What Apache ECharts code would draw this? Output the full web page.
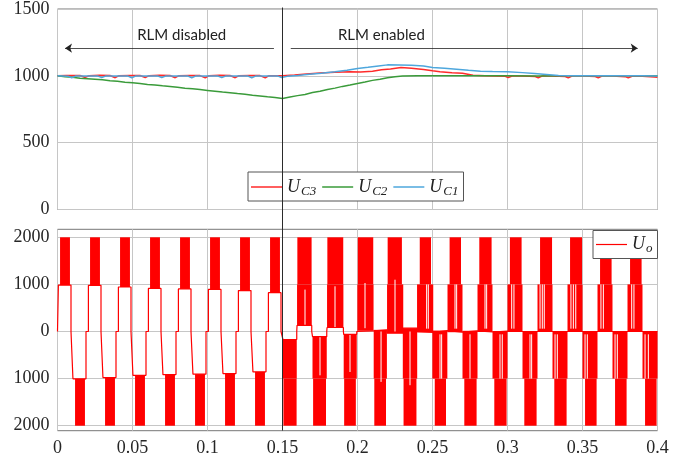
<!DOCTYPE html>
<html>
<head>
<meta charset="utf-8">
<script src="https://cdn.jsdelivr.net/npm/echarts@6/dist/echarts.min.js"></script>
<style>
html, body { margin: 0; padding: 0; background: #fff; }
#main { width: 698px; height: 466px; }
</style>
</head>
<body>
<div id="main"></div>
<script>
// ---- data ----
var switchTime = 0.15;
var uoTickValues = [-2000, -1000, 0, 1000, 2000];

// capacitor voltages [t, V]
var uc3 = [[0,1000],[0.006,1003],[0.015,1002],[0.0185,988],[0.021,1001],[0.028,1004],[0.035,1002],[0.0385,986],[0.041,1001],
  [0.048,1003],[0.055,1002],[0.0585,987],[0.061,1001],[0.068,1004],[0.075,1002],[0.0785,986],[0.081,1001],[0.088,1003],
  [0.095,1002],[0.0985,985],[0.101,1001],[0.108,1004],[0.115,1002],[0.1185,986],[0.121,1001],[0.128,1003],[0.135,1002],
  [0.1385,985],[0.141,1001],[0.150,1001],[0.158,1006],[0.166,1014],[0.175,1022],[0.185,1026],[0.195,1030],[0.202,1028],
  [0.21,1035],[0.216,1045],[0.222,1052],[0.229,1062],[0.236,1056],[0.244,1048],[0.25,1038],[0.255,1030],[0.263,1023],
  [0.27,1020],[0.277,1005],[0.285,1001],[0.292,999],[0.2985,996],[0.3005,987],[0.303,998],[0.31,999],[0.3185,995],
  [0.3205,986],[0.323,998],[0.33,999],[0.3385,995],[0.3405,985],[0.343,998],[0.35,999],[0.3585,995],[0.3605,986],
  [0.363,998],[0.37,998],[0.3785,994],[0.3805,985],[0.383,997],[0.39,996],[0.398,992],[0.4,990]];
var uc2 = [[0,1000],[0.005,993],[0.01,989],[0.015,982],[0.02,978],[0.025,974],[0.03,970],[0.035,963],[0.04,959],[0.045,952],
  [0.05,948],[0.055,943],[0.06,936],[0.065,932],[0.07,925],[0.075,920],[0.08,914],[0.085,908],[0.09,903],[0.095,897],
  [0.1,891],[0.105,885],[0.11,879],[0.115,874],[0.12,867],[0.125,862],[0.13,855],[0.135,850],[0.14,843],[0.145,838],
  [0.15,830],[0.155,841],[0.16,852],[0.165,861],[0.17,875],[0.175,885],[0.18,898],[0.185,908],[0.19,921],[0.195,931],
  [0.2,943],[0.205,954],[0.21,966],[0.215,975],[0.22,986],[0.225,994],[0.23,999],[0.24,1000],[0.26,1001],[0.28,1000],
  [0.3,1001],[0.32,999],[0.34,1001],[0.36,1000],[0.38,1001],[0.4,1000]];
var uc1 = [[0,1000],[0.007,997],[0.0095,986],[0.012,998],[0.027,998],[0.0295,987],[0.032,998],[0.047,998],[0.0495,986],
  [0.052,998],[0.067,998],[0.0695,987],[0.072,998],[0.087,998],[0.0895,986],[0.092,998],[0.107,998],[0.1095,987],
  [0.112,998],[0.127,998],[0.1295,986],[0.132,998],[0.147,998],[0.1495,988],[0.153,996],[0.16,1003],[0.168,1012],
  [0.176,1020],[0.185,1030],[0.193,1042],[0.2,1055],[0.207,1064],[0.214,1074],[0.22,1082],[0.228,1081],[0.236,1079],
  [0.244,1074],[0.25,1062],[0.258,1056],[0.266,1050],[0.274,1042],[0.282,1035],[0.29,1032],[0.3,1030],[0.31,1024],
  [0.318,1017],[0.326,1010],[0.334,1003],[0.345,1000],[0.36,1000],[0.375,1001],[0.39,1000],[0.4,999]];

// output voltage, staircase part before the switch: [t on, t off, level]
var uoSteps = [[0.0006,0.0090,986],[0.0103,0.0190,-1005],[0.0206,0.0290,980],[0.0303,0.0390,-978],
  [0.0406,0.0490,945],[0.0503,0.0590,-930],[0.0606,0.0690,915],[0.0703,0.0790,-915],[0.0806,0.0890,905],
  [0.0903,0.0990,-905],[0.1006,0.1090,893],[0.1103,0.1190,-893],[0.1206,0.1290,870],[0.1303,0.1390,-857],
  [0.1406,0.1490,825]];
// solid PWM bands of U_o: [t start, t end, from V, to V]
var uoOuterBands = [[0.0017,0.0083,986,2000],[0.0117,0.0183,-1005,-2000],[0.0217,0.0283,980,2000],
  [0.0317,0.0383,-978,-2000],[0.0417,0.0483,945,2000],[0.0517,0.0583,-930,-2000],[0.0617,0.0683,915,2000],
  [0.0717,0.0783,-915,-2000],[0.0817,0.0883,905,2000],[0.0917,0.0983,-905,-2000],[0.1017,0.1083,893,2000],
  [0.1117,0.1183,-893,-2000],[0.1217,0.1283,870,2000],[0.1317,0.1383,-857,-2000],[0.1417,0.1483,825,2000],
  [0.1506,0.1594,-1000,-2000],[0.1599,0.1694,1000,2000],[0.1704,0.1790,-1000,-2000],[0.1799,0.1905,1000,2000],
  [0.1911,0.1989,-1000,-2000],[0.2002,0.2105,1000,2000],[0.2112,0.2190,-1000,-2000],[0.2201,0.2296,1000,2000],
  [0.2307,0.2393,-1000,-2000],[0.2415,0.2490,1000,2000],[0.2515,0.2590,-1000,-2000],[0.2614,0.2690,1000,2000],
  [0.2712,0.2794,-1000,-2000],[0.2812,0.2894,1000,2000],[0.2912,0.2994,-1000,-2000],[0.3016,0.3094,1000,2000],
  [0.3112,0.3194,-1000,-2000],[0.3217,0.3297,1000,2000],[0.3312,0.3394,-1000,-2000],[0.3417,0.3497,1000,2000],
  [0.3517,0.3594,-1000,-2000],[0.3617,0.3694,1000,2000],[0.3717,0.3794,-1000,-2000],[0.3817,0.3894,1000,2000],
  [0.3917,0.3994,-1000,-2000]];
var uoInnerBands = [[0.1503,0.1595,-170,-1000],[0.1597,0.1695,130,1000],[0.1700,0.1795,-110,-1000],
  [0.1797,0.1906,85,1000],[0.1908,0.1995,-60,-1000],[0.1999,0.2107,15,1000],[0.2108,0.2196,35,-1000],
  [0.2197,0.2305,-35,1000],[0.2302,0.2398,70,-1000],[0.2397,0.2505,-20,1000],[0.2499,0.2599,20,-1000],
  [0.2600,0.2700,-15,1000],[0.2700,0.2800,15,-1000],[0.2800,0.2900,-10,1000],[0.2900,0.3000,10,-1000],
  [0.3000,0.3100,0,1000],[0.3100,0.3200,0,-1000],[0.3200,0.3300,0,1000],[0.3300,0.3400,0,-1000],
  [0.3400,0.3500,0,1000],[0.3500,0.3600,0,-1000],[0.3600,0.3700,0,1000],[0.3700,0.3800,0,-1000],
  [0.3800,0.3900,0,1000],[0.3900,0.4000,0,-1000]];
// thin white gaps inside the bands: [t, from V, to V]
var uoGaps = [[0.1650,140,890],[0.1750,-110,-930],[0.1850,70,960],[0.1950,-60,-860],[0.2050,70,1030],
  [0.2157,0,-1070],[0.2250,0,1100],[0.2350,0,-1140],[0.2461,60,1000],[0.2472,60,1000],[0.2550,-60,-1000],
  [0.2561,-60,-1000],[0.2650,60,1000],[0.2661,60,1000],[0.2750,-60,-1000],[0.2850,60,1000],[0.2861,60,1000],
  [0.2950,-60,-1000],[0.2965,-60,-1000],[0.3028,60,1000],[0.3043,60,1000],[0.3150,-60,-1000],[0.3161,-60,-1000],
  [0.3217,60,1000],[0.3232,60,1000],[0.3245,60,1000],[0.3317,-60,-1000],[0.3332,-60,-1000],[0.3423,60,1000],
  [0.3439,60,1000],[0.3455,60,1000],[0.3517,-60,-1000],[0.3532,-60,-1000],[0.3623,60,1000],[0.3639,60,1000],
  [0.3717,-60,-1000],[0.3732,-60,-1000],[0.3828,60,1000],[0.3843,60,1000],[0.3917,-60,-1000],[0.3939,-60,-1000]];

// ---- build the outline path of U_o ----
var uoOutline = [[0, 0]];
uoSteps.concat(uoInnerBands.map(function (b) { return [b[0], b[1], b[2]]; })).forEach(function (s) {
  uoOutline.push([s[0], 0], [s[0], s[2]], [s[1], s[2]], [s[1], 0]);
});

var myChart = echarts.init(document.getElementById('main'));

var serif = 'Liberation Serif';
var labelColor = '#262626';
var gridLine = { show: true, lineStyle: { color: '#c6c6c6', width: 1 } };
var frame = '#777777';
// tick labels are drawn as rich text so the serif face sticks
var tickRich = { t: { fontFamily: serif, fontSize: 18, color: labelColor } };
function tick(s) { return '{t|' + s + '}'; }

var legendRich = {
  u: { fontFamily: serif, fontStyle: 'italic', fontSize: 18, color: '#222', lineHeight: 18 },
  s: { fontFamily: serif, fontStyle: 'italic', fontSize: 13, color: '#222', lineHeight: 13, padding: [9, 0, 0, 1] }
};
var legendNames = { UC3: '{u|U}{s|C3}', UC2: '{u|U}{s|C2}', UC1: '{u|U}{s|C1}', Uo: '{u|U}{s|o}' };

function renderBand(params, api) {
  var a = api.coord([api.value(0), api.value(2)]);
  var b = api.coord([api.value(1), api.value(3)]);
  return {
    type: 'rect',
    shape: { x: Math.min(a[0], b[0]), y: Math.min(a[1], b[1]), width: Math.abs(b[0] - a[0]), height: Math.abs(b[1] - a[1]) },
    style: { fill: '#ff0000' }
  };
}
function renderGap(params, api) {
  var a = api.coord([api.value(0), api.value(1)]);
  var b = api.coord([api.value(0), api.value(2)]);
  return {
    type: 'line',
    shape: { x1: a[0], y1: a[1], x2: b[0], y2: b[1] },
    style: { stroke: '#ffffff', lineWidth: 1 }
  };
}

var option = {
  animation: false,
  grid: [
    { left: 57.5, top: 7.5, width: 600, height: 202, show: true, borderColor: frame, borderWidth: 1 },
    { left: 57.5, top: 229.3, width: 600, height: 201.4, show: true, borderColor: frame, borderWidth: 1 },
    { left: 57.5, top: 7.5, width: 600, height: 423.2 }
  ],
  xAxis: [
    { gridIndex: 0, type: 'value', min: 0, max: 0.4, interval: 0.05, axisLine: { show: false },
      axisTick: { show: false }, axisLabel: { show: false }, splitLine: gridLine },
    { gridIndex: 1, type: 'value', min: 0, max: 0.4, interval: 0.05, axisLine: { show: false },
      axisTick: { show: false }, splitLine: gridLine,
      axisLabel: { margin: 9, showMinLabel: true, showMaxLabel: true, rich: tickRich,
        formatter: function (v) { return tick(String(+v.toFixed(2))); } } },
    { gridIndex: 2, type: 'value', min: 0, max: 0.4, show: false }
  ],
  yAxis: [
    { gridIndex: 0, type: 'value', min: 0, max: 1500, interval: 500, axisLine: { show: false },
      axisTick: { show: false }, splitLine: gridLine,
      axisLabel: { margin: 8, rich: tickRich, formatter: function (v) { return tick(String(v)); } } },
    { gridIndex: 1, type: 'value', min: -2106, max: 2170, axisLine: { show: false },
      axisTick: { show: false, customValues: uoTickValues }, splitLine: gridLine,
      axisLabel: { margin: 8, customValues: uoTickValues, rich: tickRich,
        formatter: function (v) { return tick(String(Math.abs(v))); } } },
    { gridIndex: 2, type: 'value', min: 0, max: 1, show: false }
  ],
  legend: [
    { data: ['UC3', 'UC2', 'UC1'], left: 248, top: 172, icon: 'rect', itemWidth: 31, itemHeight: 1.5, itemGap: 6,
      padding: [4, 5, 3, 3], borderColor: '#555', borderWidth: 1, backgroundColor: '#fff', borderRadius: 0,
      formatter: function (n) { return legendNames[n]; }, textStyle: { rich: legendRich } },
    { data: ['Uo'], right: 40.5, top: 230.5, icon: 'rect', itemWidth: 31, itemHeight: 1.2,
      padding: [3, 5, 3, 3], borderColor: '#555', borderWidth: 1, backgroundColor: '#fff', borderRadius: 0,
      formatter: function (n) { return legendNames[n]; }, textStyle: { rich: legendRich } }
  ],
  series: [
    { name: 'UC3', type: 'line', xAxisIndex: 0, yAxisIndex: 0, data: uc3, symbol: 'none',
      lineStyle: { color: '#ff2a2a', width: 1.5 }, itemStyle: { color: '#ff2a2a' },
      markLine: {
        silent: true, symbol: ['none', 'arrow'], symbolSize: 7,
        lineStyle: { color: '#222', width: 0.8, type: 'solid' }, label: { show: false },
        itemStyle: { color: '#222' },
        data: [
          [{ coord: [0.1443, 1207] }, { coord: [0.005, 1207] }],
          [{ coord: [0.1555, 1207] }, { coord: [0.3868, 1207] }]
        ]
      },
      markPoint: {
        silent: true, symbol: 'rect', symbolSize: 1, itemStyle: { color: 'rgba(0,0,0,0)' },
        label: { show: true, position: 'inside', formatter: '{b}', color: '#222', fontFamily: 'Lato', fontSize: 15 },
        data: [
          { name: 'RLM disabled', coord: [0.0828, 1308] },
          { name: 'RLM enabled', coord: [0.2159, 1308] }
        ]
      }
    },
    { name: 'UC2', type: 'line', xAxisIndex: 0, yAxisIndex: 0, data: uc2, symbol: 'none',
      lineStyle: { color: '#3a9b3a', width: 1.5 }, itemStyle: { color: '#3a9b3a' } },
    { name: 'UC1', type: 'line', xAxisIndex: 0, yAxisIndex: 0, data: uc1, symbol: 'none',
      lineStyle: { color: '#4ea7dd', width: 1.5 }, itemStyle: { color: '#4ea7dd' } },
    { name: 'Uo', type: 'line', xAxisIndex: 1, yAxisIndex: 1, data: uoOutline, symbol: 'none',
      lineStyle: { color: '#ff0000', width: 1.2 }, itemStyle: { color: '#ff0000' } },
    { type: 'custom', xAxisIndex: 1, yAxisIndex: 1, data: uoOuterBands.concat(uoInnerBands),
      encode: { x: [0, 1], y: [2, 3] }, renderItem: renderBand, silent: true },
    { type: 'custom', xAxisIndex: 1, yAxisIndex: 1, data: uoGaps,
      encode: { x: 0, y: [1, 2] }, renderItem: renderGap, silent: true, z: 3 },
    { type: 'line', xAxisIndex: 2, yAxisIndex: 2, data: [[switchTime, 0], [switchTime, 1]], symbol: 'none',
      lineStyle: { color: '#2b2b2b', width: 1 }, silent: true, z: 6 }
  ]
};

myChart.setOption(option);
</script>
</body>
</html>
